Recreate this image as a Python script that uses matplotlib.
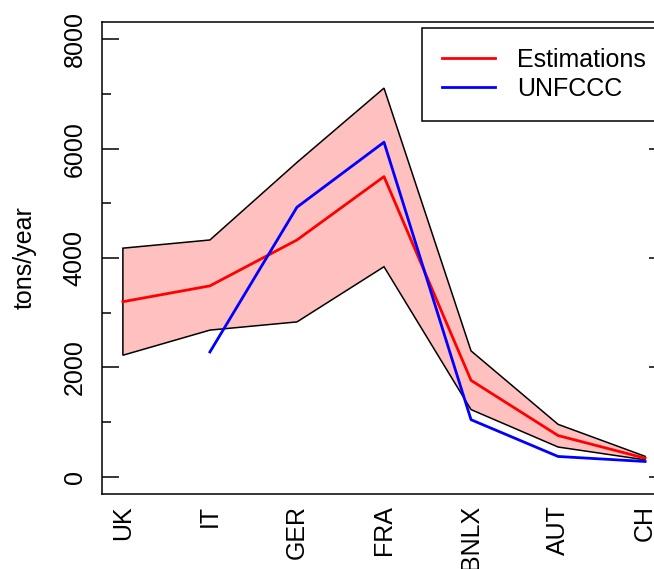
import numpy as np
import matplotlib
matplotlib.use("Agg")
import matplotlib.pyplot as plt
from matplotlib.ticker import MultipleLocator

# 字体设置（类似 R 默认的 Arial/Helvetica）
plt.rcParams['font.family'] = ['Liberation Sans', 'DejaVu Sans']

# 数据
countries = ['UK', 'IT', 'GER', 'FRA', 'BNLX', 'AUT', 'CH']
estimations = [3200, 3490, 4330, 5490, 1760, 750, 335]
est_upper = [4180, 4330, 5750, 7110, 2300, 955, 370]
est_lower = [2220, 2680, 2830, 3840, 1225, 540, 305]
unfccc = [np.nan, 2280, 4930, 6120, 1040, 367, 275]

x = np.arange(1, len(countries) + 1)

fig = plt.figure(figsize=(6.54, 5.69), dpi=100)
# 绘图区域（右侧超出画布，和原图一样被裁掉）
ax = fig.add_axes([102 / 654, 1 - 494 / 569, 564 / 654, 472 / 569])

# 置信带
band_x = np.concatenate([x, x[::-1]])
band_y = np.concatenate([est_upper, est_lower[::-1]])
ax.fill(band_x, band_y, facecolor='#FFC0C0', edgecolor='black', linewidth=1.1)

ax.plot(x, estimations, color='#FF0000', linewidth=2, label='Estimations')
ax.plot(x, unfccc, color='#0000FF', linewidth=2, label='UNFCCC')

ax.set_xlim(0.76, 7.24)
ax.set_ylim(-320, 8320)

# 坐标轴
ax.set_xticks(x)
ax.set_xticklabels(countries, rotation=90, fontsize=18)
ax.tick_params(axis='x', length=0, pad=8)

ax.yaxis.set_major_locator(MultipleLocator(2000))
ax.yaxis.set_minor_locator(MultipleLocator(1000))
ax.tick_params(axis='y', which='major', direction='in', length=12.5, width=1.1,
               right=True, labelsize=18, pad=11)
ax.tick_params(axis='y', which='minor', direction='in', length=6.5, width=1.1, right=True)
for lab in ax.get_yticklabels():
    lab.set_rotation(90)
    lab.set_va('center')

for sp in ax.spines.values():
    sp.set_linewidth(1.1)
    sp.set_color('black')

fig.text(25 / 654, 1 - 258 / 569, 'tons/year', rotation=90, ha='center', va='center', fontsize=18)

# 图例
leg = ax.legend(loc='upper left', bbox_to_anchor=(422 / 654, 1 - 28 / 569),
                bbox_transform=fig.transFigure, fontsize=18, frameon=True,
                fancybox=False, framealpha=1, borderaxespad=0, borderpad=0.8,
                handlelength=2.1, handletextpad=0.9, labelspacing=0.2)
leg.get_frame().set_edgecolor('black')
leg.get_frame().set_linewidth(1.1)

fig.savefig('out.png', dpi=100)
